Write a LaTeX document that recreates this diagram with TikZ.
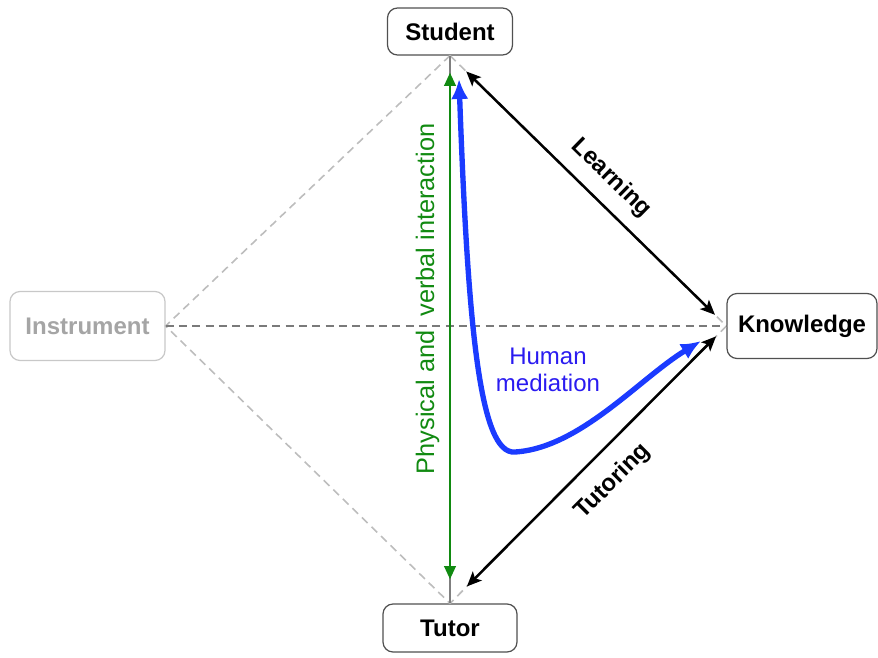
\documentclass[tikz,border=0pt]{standalone}
\usepackage{fontspec}
\setmainfont{Liberation Sans}
\usetikzlibrary{arrows.meta}
\definecolor{boxline}{HTML}{505050}
\definecolor{ghostline}{HTML}{C8C8C8}
\definecolor{ghosttext}{HTML}{A5A5A5}
\definecolor{dashlight}{HTML}{BDBDBD}
\definecolor{dashdark}{HTML}{7A7A7A}
\definecolor{stemgray}{HTML}{7F7F7F}
\definecolor{intgreen}{HTML}{118A11}
\definecolor{medblue}{HTML}{1B3BFF}
\definecolor{medtext}{HTML}{2A1BF0}
\tikzset{
  vertexbox/.style={draw=boxline, line width=0.9pt, rounded corners=7.5pt, fill=white,
    font=\fontsize{18}{21}\selectfont\bfseries, text=black, inner sep=0pt},
  ghostbox/.style={vertexbox, draw=ghostline, text=ghosttext},
  diamondedge/.style={draw=dashlight, line width=1.2pt, dash pattern=on 6pt off 4pt},
  axisedge/.style={draw=dashdark, line width=1.2pt, dash pattern=on 6pt off 4pt},
  relarrow/.style={draw=black, line width=1.9pt,
    {Stealth[length=11pt,width=9.5pt,inset=2.5pt]}-{Stealth[length=11pt,width=9.5pt,inset=2.5pt]}},
  greenarrow/.style={draw=intgreen, line width=2.1pt,
    {Triangle[length=10pt,width=8.5pt]}-{Triangle[length=10pt,width=8.5pt]}},
  bluearrow/.style={draw=medblue, line width=4pt,
    {Latex[length=15pt,width=13pt]}-{Latex[length=15pt,width=13pt]}},
  rellabel/.style={font=\fontsize{18}{21}\selectfont\bfseries, text=black, sloped},
}
\begin{document}
\begin{tikzpicture}[x=0.75pt,y=-0.75pt]
\useasboundingbox (0,0) rectangle (878,657);

% vertices
\node[vertexbox, minimum width=93.75pt, minimum height=35.25pt] (student) at (450,31.5) {Student};
\node[vertexbox, minimum width=100.5pt, minimum height=36pt] (tutor) at (450,628) {Tutor};
\node[ghostbox, minimum width=116.25pt, minimum height=51.75pt] (instrument) at (87.5,326) {Instrument};
\node[vertexbox, minimum width=112.5pt, minimum height=48.75pt] (knowledge) at (802,326) {Knowledge};

% diamond
\draw[diamondedge] (student.south) -- (instrument.east) -- (tutor.north);
\draw[diamondedge] (student.south) -- (knowledge.west) -- (tutor.north);
\draw[axisedge] (instrument.east) -- (knowledge.west);

% vertical stem and green interaction arrow
\draw[stemgray, line width=1.4pt] (tutor.north) -- (student.south);
\draw[greenarrow, shorten <=18pt, shorten >=12.75pt] (tutor.north) -- (student.south)
  node[pos=0.556, sloped, above=3.6pt, inner sep=3.33pt, text=intgreen,
       font=\fontsize{19}{22}\selectfont] (interaction) {Physical and\ \ verbal interaction};

% learning / tutoring
\draw[relarrow, shorten <=17pt, shorten >=12pt] (student.south) -- (knowledge.west)
  node[rellabel, pos=0.52, above=6pt, inner sep=3.33pt] (learning) {Learning};
\draw[relarrow, shorten <=18pt, shorten >=11pt] (tutor.north) -- (knowledge.west)
  node[rellabel, pos=0.514, below=9.5pt, inner sep=3.33pt] (tutoring) {Tutoring};

% human mediation
\coordinate (hmtop) at (459,79);
\coordinate (hmbottom) at (515,452);
\coordinate (hmend) at (701,341);
\draw[bluearrow] (hmtop) .. controls (468,330) and (480,455) .. (hmbottom)
  .. controls (580,448) and (640,378) .. (hmend);
\node[text=medtext, font=\fontsize{18}{20}\selectfont, align=center, inner sep=0pt] (mediation) at (548,370) {Human\\mediation};
\end{tikzpicture}
\end{document}
